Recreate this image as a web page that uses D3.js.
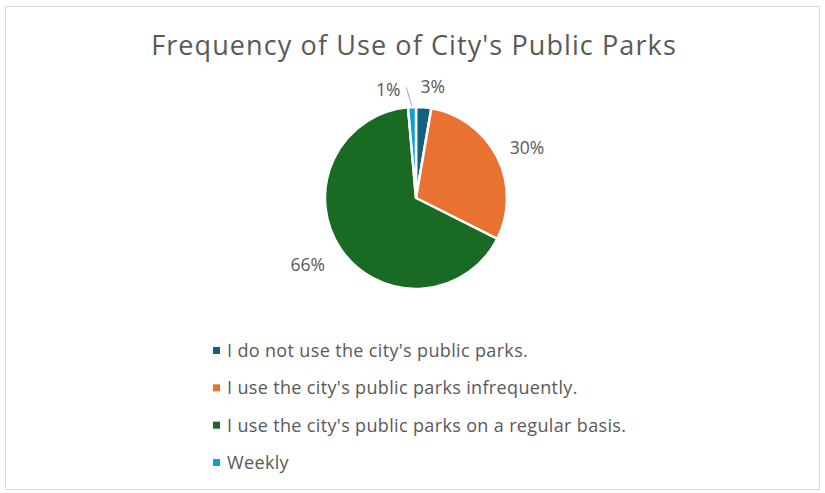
<!DOCTYPE html>
<html>
<head>
<meta charset="utf-8">
<script src="https://cdn.jsdelivr.net/npm/d3@7"></script>
<style>
  html, body { margin: 0; padding: 0; background: #fff; }
  svg { display: block; }
</style>
</head>
<body>
<svg id="chart" width="825" height="493"></svg>
<script>
// Survey responses: how often residents use the city's public parks (percent)
const categories = [
  "I do not use the city's public parks.",
  "I use the city's public parks infrequently.",
  "I use the city's public parks on a regular basis.",
  "Weekly"
];
const shares = [2.7, 29.7, 66.2, 1.4];
const labels = ["3%", "30%", "66%", "1%"];
const colors = ["#156082", "#E97132", "#196B24", "#0F9ED5"];
const title = "Frequency of Use of City's Public Parks";

const W = 825, H = 493;
const svg = d3.select("#chart");
const font = "'Open Sans', sans-serif";
const textColor = "#595959";

// chart frame
svg.append("rect")
  .attr("x", 5.5).attr("y", 6.5)
  .attr("width", 814).attr("height", 483)
  .attr("fill", "#fff")
  .attr("stroke", "#D9D9D9")
  .attr("stroke-width", 1);

// title
svg.append("text")
  .attr("x", 414).attr("y", 55)
  .attr("text-anchor", "middle")
  .attr("font-family", font)
  .attr("font-size", 27)
  .attr("letter-spacing", 1.1)
  .attr("fill", textColor)
  .text(title);

// pie
const cx = 416, cy = 198, r = 91;
const data = categories.map((c, i) => ({ cat: c, value: shares[i], label: labels[i], color: colors[i] }));
const pie = d3.pie().value(d => d.value).sort(null);
const arcs = pie(data);
const arc = d3.arc().innerRadius(0).outerRadius(r);

const g = svg.append("g").attr("transform", `translate(${cx},${cy})`);
g.selectAll("path.slice")
  .data(arcs)
  .join("path")
  .attr("class", "slice")
  .attr("d", arc)
  .attr("fill", d => d.data.color)
  .attr("stroke", "#fff")
  .attr("stroke-width", 2.5)
  .attr("stroke-linejoin", "round");

// data labels outside the pie
const labelR = r + 20;
arcs.forEach((a, i) => {
  let ang = (a.startAngle + a.endAngle) / 2;
  let shifted = false;
  // the tiny last slice collides with its neighbour: pull its label aside with a leader line
  if (i === arcs.length - 1 && (a.endAngle - a.startAngle) < 0.1) {
    ang = ang - 0.2;
    shifted = true;
  }
  const lx = Math.sin(ang) * (labelR + 4);
  const ly = -Math.cos(ang) * (labelR + 4);
  let anchor = "middle";
  if (!shifted) {
    if (Math.sin(ang) > 0.3) anchor = "start";
    else if (Math.sin(ang) < -0.3) anchor = "end";
  }
  if (shifted) {
    const mid = (a.startAngle + a.endAngle) / 2;
    g.append("line")
      .attr("x1", Math.sin(mid) * (r + 1))
      .attr("y1", -Math.cos(mid) * (r + 1))
      .attr("x2", lx + 18)
      .attr("y2", ly + 1)
      .attr("stroke", "#A6A6A6")
      .attr("stroke-width", 1);
  }
  g.append("text")
    .attr("x", shifted ? lx : (anchor === "middle" ? lx + 7 : (anchor === "start" ? lx - 9 : lx + 4)))
    .attr("y", ly + (anchor === "middle" ? 10 : 8))
    .attr("text-anchor", anchor)
    .attr("font-family", font)
    .attr("font-size", 17.5)
    .attr("fill", textColor)
    .text(a.data.label);
});

// legend
const legend = svg.append("g").attr("transform", "translate(213,0)");
const rowY = d3.scalePoint().domain(categories).range([351, 463]);
categories.forEach((c, i) => {
  const y = rowY(c);
  legend.append("rect")
    .attr("x", 0).attr("y", y - 4)
    .attr("width", 7).attr("height", 7)
    .attr("fill", colors[i]);
  legend.append("text")
    .attr("x", 14).attr("y", y + 6)
    .attr("font-family", font)
    .attr("font-size", 18)
    .attr("letter-spacing", 0.35)
    .attr("fill", textColor)
    .text(c);
});
</script>
</body>
</html>
